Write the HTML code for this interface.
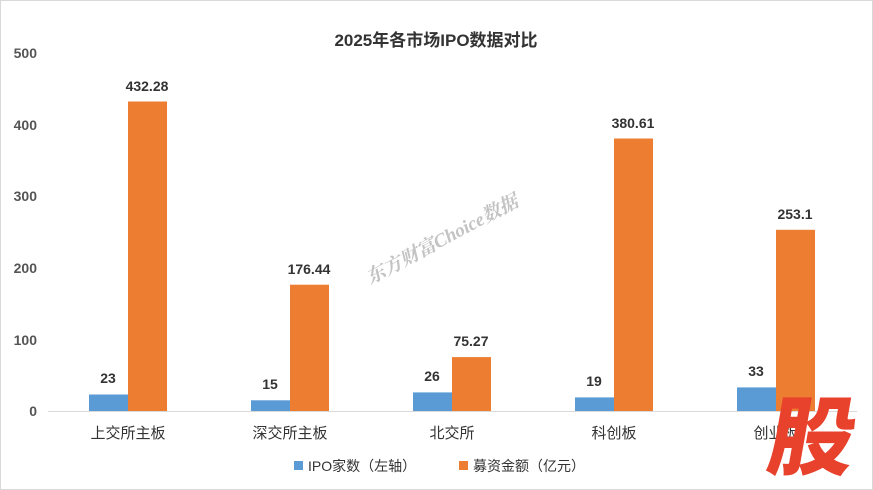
<!DOCTYPE html>
<html><head><meta charset="utf-8"><style>
body{margin:0;background:#fff}
svg{display:block;font-family:"Liberation Sans","Noto Sans CJK SC",sans-serif}
</style></head><body>
<svg width="873" height="490" viewBox="0 0 873 490">
<rect x="0.5" y="0.5" width="872" height="489" fill="#fff" stroke="#d9d9d9"/>
<text x="436" y="46" text-anchor="middle" font-size="17" font-weight="bold" fill="#333">2025年各市场IPO数据对比</text>
<g font-size="14" font-weight="bold" fill="#555" text-anchor="end">
<text x="37" y="416">0</text><text x="37" y="345">100</text><text x="37" y="273">200</text>
<text x="37" y="201">300</text><text x="37" y="130">400</text><text x="37" y="58">500</text>
</g>
<line x1="48" y1="411.5" x2="857" y2="411.5" stroke="#d9d9d9"/>
<g fill="#5b9bd5">
<rect x="89" y="394.5" width="39" height="16.5"/>
<rect x="251" y="400.3" width="39" height="10.7"/>
<rect x="413" y="392.4" width="39" height="18.6"/>
<rect x="575" y="397.4" width="39" height="13.6"/>
<rect x="737" y="387.4" width="39" height="23.6"/>
</g>
<g fill="#ed7d31">
<rect x="128" y="101.5" width="39" height="309.5"/>
<rect x="290" y="284.7" width="39" height="126.3"/>
<rect x="452" y="357.1" width="39" height="53.9"/>
<rect x="614" y="138.5" width="39" height="272.5"/>
<rect x="776" y="229.8" width="39" height="181.2"/>
</g>
<g font-size="14" font-weight="bold" fill="#333" text-anchor="middle">
<text x="108" y="383">23</text><text x="147" y="91">432.28</text>
<text x="270" y="389">15</text><text x="309" y="274">176.44</text>
<text x="432" y="381">26</text><text x="471" y="346">75.27</text>
<text x="594" y="386">19</text><text x="633" y="128">380.61</text>
<text x="756" y="376">33</text><text x="795" y="219">253.1</text>
</g>
<g font-size="15" fill="#333" text-anchor="middle">
<text x="128" y="438">上交所主板</text><text x="290" y="438">深交所主板</text>
<text x="452" y="438">北交所</text><text x="614" y="438">科创板</text><text x="776" y="438">创业板</text>
</g>
<rect x="294" y="461" width="9" height="9" fill="#5b9bd5"/>
<text x="308" y="471" font-size="14" fill="#333">IPO家数（左轴）</text>
<rect x="459" y="461" width="9" height="9" fill="#ed7d31"/>
<text x="473" y="471" font-size="14" fill="#333">募资金额（亿元）</text>
<text x="445" y="245" font-size="19" font-weight="bold" font-style="italic" fill="#aaa" opacity="0.7" text-anchor="middle" transform="rotate(-28 445 245)" font-family="Liberation Serif,Noto Serif CJK SC,serif">东方财富Choice数据</text>
<text x="808" y="468" font-size="86" font-weight="900" fill="#e8412c" text-anchor="middle" transform="skewX(-10) translate(82 0)">股</text>
</svg>
</body></html>
